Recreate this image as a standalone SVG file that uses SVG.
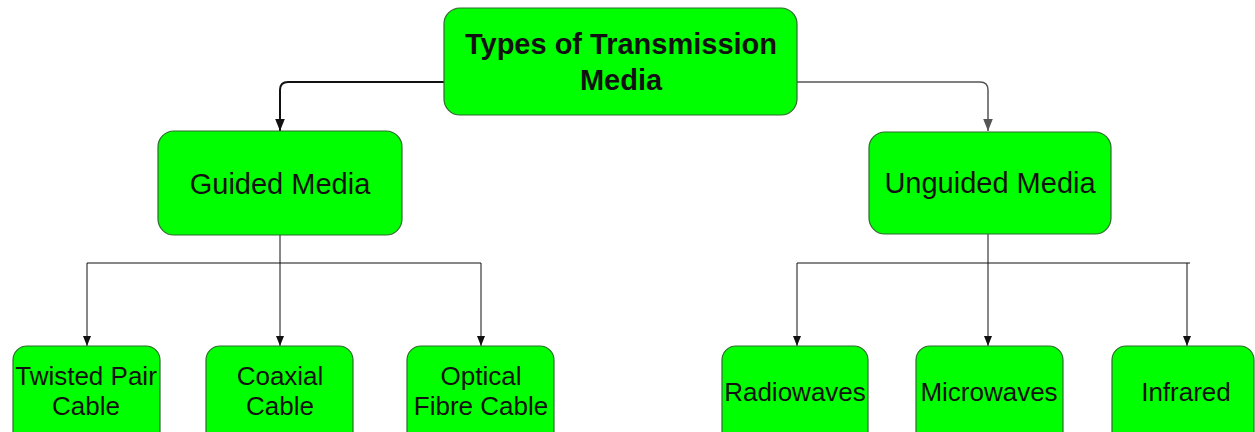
<svg xmlns="http://www.w3.org/2000/svg" width="1255" height="432" viewBox="0 0 1255 432">
<defs>
<style>
.box{fill:#00ff00;stroke:#2e6b2e;stroke-width:1.2}
.t{font-family:"Liberation Sans",Arial,sans-serif;fill:#111;text-anchor:middle}
.title{font-weight:bold;font-size:29px}
.mid{font-size:29px}
.sm{font-size:26px}
.c{fill:none;stroke:#111;stroke-width:1}
</style>
<marker id="ah" markerUnits="userSpaceOnUse" markerWidth="10" markerHeight="10" viewBox="0 0 10 10" refX="10" refY="5" orient="auto">
<path d="M0,1 L10,5 L0,9 Z" fill="#111"/>
</marker>
<marker id="ahg" markerUnits="userSpaceOnUse" markerWidth="12" markerHeight="12" viewBox="0 0 10 10" refX="10" refY="5" orient="auto">
<path d="M0,1 L10,5 L0,9 Z" fill="#555"/>
</marker>
<marker id="ahb" markerUnits="userSpaceOnUse" markerWidth="12" markerHeight="12" viewBox="0 0 10 10" refX="10" refY="5" orient="auto">
<path d="M0,1 L10,5 L0,9 Z" fill="#111"/>
</marker>
</defs>
<rect width="1255" height="432" fill="#fff"/>
<g id="connectors">
<path class="c" style="stroke-width:2" d="M444,82 H288 Q280,82 280,90 V131" marker-end="url(#ahb)"/>
<path class="c" style="stroke:#555;stroke-width:1.5" d="M797,82 H980 Q988,82 988,90 V131" marker-end="url(#ahg)"/>
<path class="c" d="M280,235 V346" marker-end="url(#ah)"/>
<path class="c" d="M87,263 H481"/>
<path class="c" d="M87,263 V346" marker-end="url(#ah)"/>
<path class="c" d="M481,263 V346" marker-end="url(#ah)"/>
<path class="c" d="M988,234 V346" marker-end="url(#ah)"/>
<path class="c" d="M797,263 H1190"/>
<path class="c" d="M797,263 V346" marker-end="url(#ah)"/>
<path class="c" d="M1187,263 V346" marker-end="url(#ah)"/>
</g>
<g id="n-root">
<rect class="box" x="444" y="8" width="353" height="107" rx="16"/>
<text class="t title" x="621" y="54">Types of Transmission</text>
<text class="t title" x="621" y="90">Media</text>
</g>
<g id="n-guided">
<rect class="box" x="158" y="131" width="244" height="104" rx="16"/>
<text class="t mid" x="280" y="194">Guided Media</text>
</g>
<g id="n-unguided">
<rect class="box" x="869" y="132" width="242" height="102" rx="16"/>
<text class="t mid" x="990" y="193">Unguided Media</text>
</g>
<g id="n-twisted">
<rect class="box" x="13" y="346" width="147" height="100" rx="14"/>
<text class="t sm" x="86" y="385">Twisted Pair</text>
<text class="t sm" x="86" y="415">Cable</text>
</g>
<g id="n-coaxial">
<rect class="box" x="206" y="346" width="147" height="100" rx="14"/>
<text class="t sm" x="280" y="385">Coaxial</text>
<text class="t sm" x="280" y="415">Cable</text>
</g>
<g id="n-optical">
<rect class="box" x="407" y="346" width="147" height="100" rx="14"/>
<text class="t sm" x="481" y="385">Optical</text>
<text class="t sm" x="481" y="415">Fibre Cable</text>
</g>
<g id="n-radio">
<rect class="box" x="722" y="346" width="146" height="100" rx="14"/>
<text class="t sm" x="795" y="401">Radiowaves</text>
</g>
<g id="n-micro">
<rect class="box" x="916" y="346" width="147" height="100" rx="14"/>
<text class="t sm" x="989" y="401">Microwaves</text>
</g>
<g id="n-infra">
<rect class="box" x="1112" y="346" width="142" height="100" rx="14"/>
<text class="t sm" x="1186" y="401">Infrared</text>
</g>
</svg>
